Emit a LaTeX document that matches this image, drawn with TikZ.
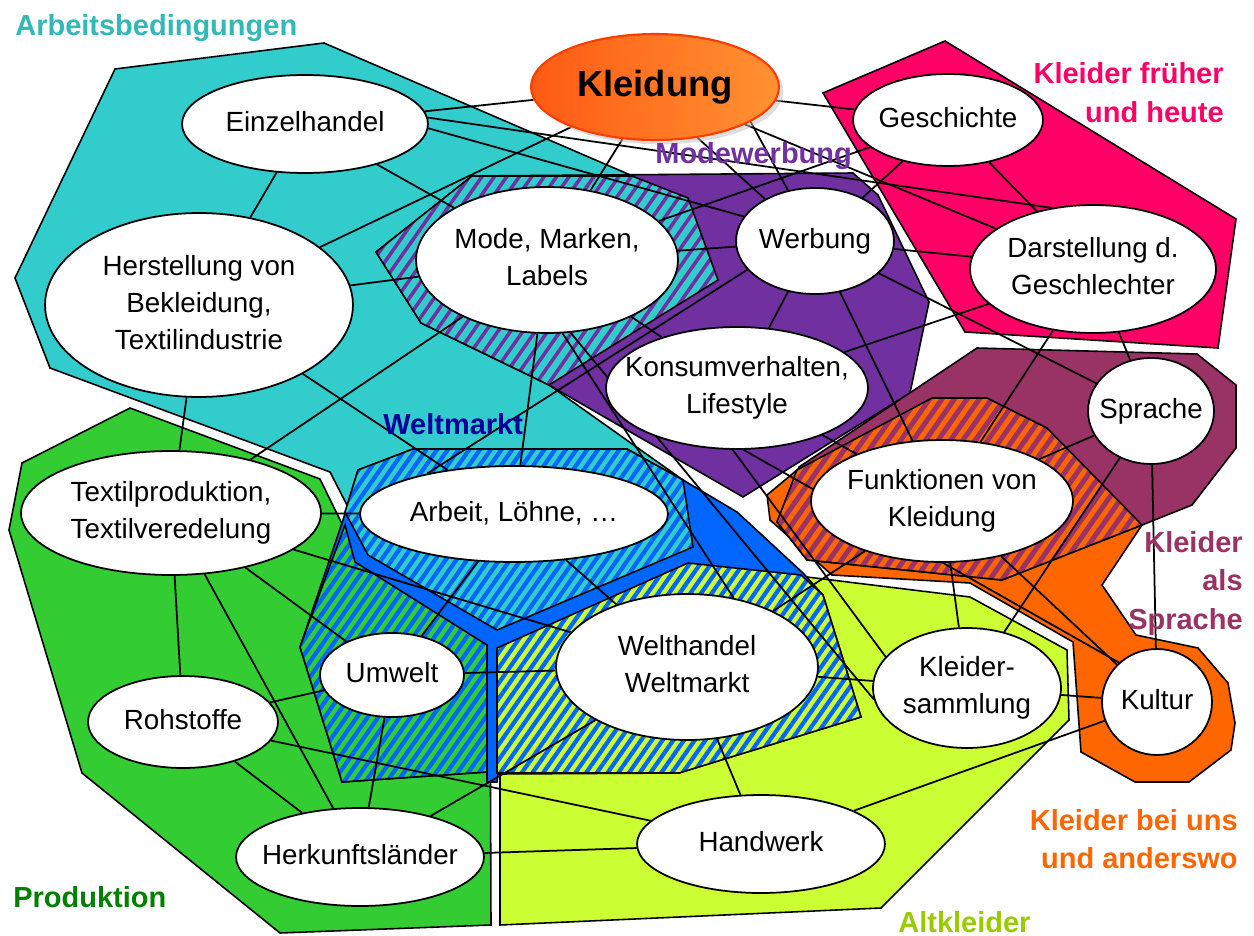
\documentclass[tikz,border=0pt]{standalone}
\usepackage{fontspec}
\setmainfont{Liberation Sans}
\usetikzlibrary{shapes.geometric,patterns.meta,shadows}
\pgfdeclarelayer{bgw}
\pgfdeclarelayer{poly}
\pgfdeclarelayer{lines}
\pgfsetlayers{bgw,poly,lines,main}
\definecolor{cTeal}{HTML}{33CCCC}
\definecolor{cPurple}{HTML}{7030A0}
\definecolor{cMag}{HTML}{FF0066}
\definecolor{cMaroon}{HTML}{993366}
\definecolor{cOrange}{HTML}{FF6600}
\definecolor{cGreen}{HTML}{33CC33}
\definecolor{cYellow}{HTML}{CCFF33}
\definecolor{cBlue}{HTML}{0066FF}
\definecolor{lTeal}{HTML}{33B8B8}
\definecolor{lNavy}{HTML}{000099}
\definecolor{lGreen}{HTML}{008000}
\definecolor{lYellow}{HTML}{99CC00}
\definecolor{kBorder}{HTML}{FF3C00}
\definecolor{kLeft}{HTML}{FF5A14}
\definecolor{kRight}{HTML}{FF9233}
\newcommand\zb[1]{\makebox[0pt][c]{\begin{tabular}{@{}c@{}}#1\end{tabular}}}
\tikzset{
  bub/.style 2 args={ellipse, draw=black, line width=1pt, fill=white,
    minimum width=#1*0.569pt, minimum height=#2*0.569pt, inner sep=0pt,
    font=\fontsize{15.8}{21}\selectfont},
  region/.style={draw=black, line width=0.9pt, line join=miter},
  hatchfill/.style n args={4}{preaction={fill=#1},
    pattern={Lines[angle=55,distance=#3pt,line width=#4pt]}, pattern color=#2},
  cat/.style={font=\bfseries\fontsize{16.5}{22}\selectfont, inner sep=0pt},
  link/.style={draw=black, line width=1pt}
}
\begin{document}
\begin{tikzpicture}[x=0.02cm,y=-0.02cm]
\useasboundingbox (0,0) rectangle (1254,936);
\begin{pgfonlayer}{bgw}
\fill[white] (0,0) rectangle (1254,936);
\end{pgfonlayer}

% ---------- nodes ----------
\node[ellipse, draw=kBorder, line width=1.2pt, left color=kLeft, right color=kRight,
  minimum width=248*0.569pt, minimum height=106*0.569pt, inner sep=0pt,
  font=\bfseries\fontsize{20.7}{24}\selectfont,
  drop shadow={shadow xshift=2.5pt, shadow yshift=-2.5pt, fill=black!25}] (kleid) at (655,87) {Kleidung};
\node[bub={246}{98}] (einz) at (305,124) {\zb{Einzelhandel}};
\node[bub={308}{184}] (herst) at (199,305) {\zb{Herstellung von\\Bekleidung,\\Textilindustrie}};
\node[bub={262}{146}] (mode) at (547,260) {\zb{Mode, Marken,\\Labels}};
\node[bub={158}{106}] (werb) at (815,241) {\zb{Werbung}};
\node[bub={190}{92}] (gesch) at (948,120) {\zb{Geschichte}};
\node[bub={246}{128}] (darst) at (1093,269) {\zb{Darstellung d.\\Geschlechter}};
\node[bub={262}{122}] (konsum) at (737,388) {\zb{Konsumverhalten,\\Lifestyle}};
\node[bub={126}{106}] (sprache) at (1151,411) {\zb{Sprache}};
\node[bub={300}{124}] (textil) at (171,513) {\zb{Textilproduktion,\\Textilveredelung}};
\node[bub={308}{96}] (arbeit) at (514,514) {\zb{Arbeit, Löhne, …}};
\node[bub={262}{122}] (funk) at (942,501) {\zb{Funktionen von\\Kleidung}};
\node[bub={144}{84}] (umwelt) at (392,675) {\zb{Umwelt}};
\node[bub={262}{146}] (welth) at (687,667) {\zb{Welthandel\\Weltmarkt}};
\node[bub={188}{120}] (kleidsam) at (967,688) {\zb{Kleider-\\sammlung}};
\node[bub={110}{106}] (kultur) at (1157,702) {\zb{Kultur}};
\node[bub={190}{92}] (rohst) at (183,722) {\zb{Rohstoffe}};
\node[bub={248}{98}] (herk) at (360,857) {\zb{Herkunftsländer}};
\node[bub={248}{98}] (handw) at (761,844) {\zb{Handwerk}};

% ---------- category labels ----------
\node[cat, text=lTeal, anchor=base west] (labArb) at (15,36) {Arbeitsbedingungen};
\node[cat, text=cPurple, anchor=base west] (labMode) at (655,163) {Modewerbung};
\node[cat, text=cMag, anchor=base east] (labFrueh) at (1224,84) {\begin{tabular}[t]{@{}r@{}}Kleider früher\\und heute\end{tabular}};
\node[cat, text=lNavy, anchor=base west] (labWelt) at (383,434) {Weltmarkt};
\node[cat, text=cMaroon, anchor=base east] (labSpr) at (1243,552) {\begin{tabular}[t]{@{}r@{}}Kleider\\als\\Sprache\end{tabular}};
\node[cat, text=cOrange, anchor=base east] (labUns) at (1238,830) {\begin{tabular}[t]{@{}r@{}}Kleider bei uns\\und anderswo\end{tabular}};
\node[cat, text=lGreen, anchor=base west] (labProd) at (13,907) {Produktion};
\node[cat, text=lYellow, anchor=base west] (labAlt) at (898,932) {Altkleider};

% ---------- regions ----------
\begin{pgfonlayer}{poly}
\draw[region, fill=cTeal] (115,69) -- (324,43) -- (700,205) -- (717,282) -- (549,385) -- (683,480) -- (600,470) -- (347,505) -- (330,472) -- (50,368) -- (15,278) -- cycle;
\draw[region, fill=cGreen] (22,463) -- (130,408) -- (320,479) -- (345,530) -- (490,650) -- (491,925) -- (280,933) -- (82,773) -- (9,530) -- cycle;
\draw[region, fill=cYellow] (500,777) -- (500,925) -- (881,908) -- (1069,720) -- (1067,650) -- (970,597) -- (807,577) -- (688,563) -- (505,650) -- cycle;
\draw[region, fill=cMag] (823,93) -- (945,41) -- (1236,219) -- (1218,348) -- (965,332) -- cycle;
\draw[region, fill=cPurple] (472,176) -- (853,173) -- (878,195) -- (929,302) -- (910,393) -- (743,497) -- (549,385) -- (421,323) -- (376,252) -- cycle;
\draw[region, hatchfill={cTeal}{cPurple}{5.8}{2.0}] (472,176) -- (632,176) -- (688,198) -- (718,280) -- (549,385) -- (421,323) -- (376,252) -- cycle;
\draw[region, fill=cBlue] (358,470) -- (413,449) -- (627,449) -- (683,480) -- (737,512) -- (803,573) -- (823,595) -- (861,717) -- (679,773) -- (498,774) -- (497,782) -- (487,782) -- (487,772) -- (342,782) -- (300,647) -- (343,520) -- cycle;
\draw[region, hatchfill={cTeal}{cBlue}{5.0}{2.4}] (358,470) -- (413,449) -- (627,449) -- (683,480) -- (693,547) -- (497,630) -- (368,555) -- (345,512) -- cycle;
\draw[region, hatchfill={cGreen}{cBlue}{5.0}{2.4}] (345,525) -- (355,562) -- (487,645) -- (487,772) -- (342,782) -- (300,647) -- cycle;
\draw[region, hatchfill={cYellow}{cBlue}{5.0}{2.4}] (497,648) -- (688,563) -- (801,575) -- (823,595) -- (861,717) -- (679,773) -- (497,773) -- cycle;
\draw[region, fill=cOrange] (767,495) -- (797,470) -- (932,398) -- (987,398) -- (1047,428) -- (1142,525) -- (1102,585) -- (1136,635) -- (1198,648) -- (1228,683) -- (1235,723) -- (1231,750) -- (1189,782) -- (1135,782) -- (1081,752) -- (1073,642) -- (970,583) -- (832,575) -- (770,520) -- cycle;
\draw[region, fill=cMaroon] (977,348) -- (1197,354) -- (1236,385) -- (1236,448) -- (1192,505) -- (1142,525) -- (1002,580) -- (807,560) -- (777,522) -- (799,467) -- cycle;
\draw[region, hatchfill={cMaroon}{cOrange}{5.8}{2.8}] (797,470) -- (932,398) -- (987,398) -- (1047,428) -- (1142,525) -- (1002,580) -- (807,560) -- (777,522) -- cycle;
\end{pgfonlayer}

% ---------- connectors ----------
\begin{pgfonlayer}{lines}
\draw[link] (kleid) -- (einz);
\draw[link] (kleid) -- (herst);
\draw[link] (kleid) -- (mode);
\draw[link] (kleid.-50) -- (werb.140);
\draw[link] (kleid.-20) -- (werb.118);
\draw[link] (kleid) -- (gesch);
\draw[link] (kleid) -- (darst);
\draw[link] (einz) -- (herst);
\draw[link] (einz) -- (mode);
\draw[link] (einz.-2) -- (werb.161);
\draw[link] (einz.3) -- (darst.124);
\draw[link] (herst) -- (mode);
\draw[link] (herst) -- (arbeit);
\draw[link] (herst) -- (textil);
\draw[link] (mode) -- (werb);
\draw[link] (mode) -- (gesch);
\draw[link] (mode) -- (konsum);
\draw[link] (mode) -- (textil);
\draw[link] (mode) -- (arbeit);
\draw[link] (mode.-78) -- (welth.56);
\draw[link] (mode.-72) -- (kleidsam.187);
\draw[link] (werb) -- (gesch);
\draw[link] (werb) -- (darst);
\draw[link] (werb) -- (sprache);
\draw[link] (werb) -- (funk);
\draw[link] (werb) -- (konsum);
\draw[link] (werb.203) -- (arbeit.155);
\draw[link] (gesch) -- (darst);
\draw[link] (darst) -- (konsum);
\draw[link] (darst) -- (funk);
\draw[link] (darst) -- (sprache);
\draw[link] (konsum) -- (funk);
\draw[link] (konsum.-94) -- (kleidsam.159);
\draw[link] (konsum.-84) -- (kultur.134);
\draw[link] (sprache) -- (funk);
\draw[link] (sprache) -- (kleidsam);
\draw[link] (sprache) -- (kultur);
\draw[link] (funk) -- (kleidsam);
\draw[link] (funk) -- (kultur);
\draw[link] (funk) -- (welth);
\draw[link] (kleidsam) -- (kultur);
\draw[link] (kleidsam) -- (welth);
\draw[link] (kultur) -- (handw);
\draw[link] (textil) -- (arbeit);
\draw[link] (textil) -- (rohst);
\draw[link] (textil) -- (herk);
\draw[link] (textil) -- (umwelt);
\draw[link] (textil) -- (welth);
\draw[link] (arbeit) -- (umwelt);
\draw[link] (arbeit) -- (welth);
\draw[link] (umwelt) -- (rohst);
\draw[link] (umwelt) -- (welth);
\draw[link] (umwelt) -- (herk);
\draw[link] (rohst) -- (herk);
\draw[link] (rohst) -- (handw);
\draw[link] (herk) -- (handw);
\draw[link] (herk) -- (welth);
\draw[link] (handw) -- (welth);
\end{pgfonlayer}
\end{tikzpicture}
\end{document}
